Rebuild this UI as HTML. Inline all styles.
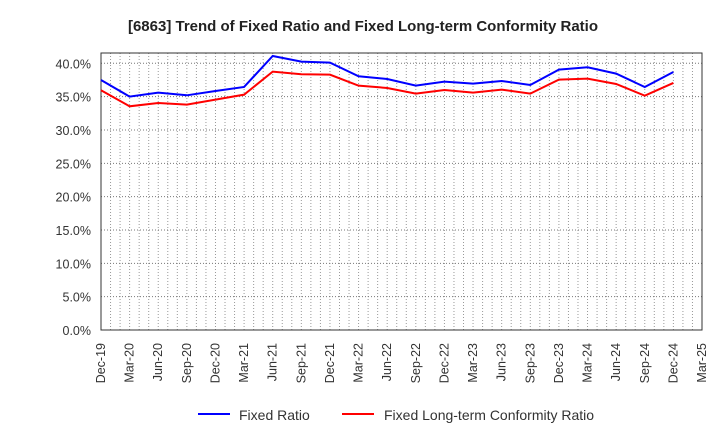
<!DOCTYPE html>
<html><head><meta charset="utf-8"><style>
body{margin:0;background:#fff;font-family:"Liberation Sans",sans-serif}
svg text{font-family:"Liberation Sans",sans-serif}
</style></head><body>
<svg id="c" width="720" height="440" xmlns="http://www.w3.org/2000/svg">
<text x="363" y="31" text-anchor="middle" font-size="15" font-weight="bold" fill="#222">[6863]  Trend of Fixed Ratio and Fixed Long-term Conformity Ratio</text>
<g id="grid"></g><g id="axes"></g><g id="series"></g>
<g>
<line x1="198" y1="414" x2="230" y2="414" stroke="#0000ff" stroke-width="2"/>
<text x="239" y="420" font-size="14" fill="#333">Fixed Ratio</text>
<line x1="342" y1="414" x2="374" y2="414" stroke="#ff0000" stroke-width="2"/>
<text x="384" y="420" font-size="14" fill="#333">Fixed Long-term Conformity Ratio</text>
</g>
</svg>
<script>
const xLabels=["Dec-19","Mar-20","Jun-20","Sep-20","Dec-20","Mar-21","Jun-21","Sep-21","Dec-21","Mar-22","Jun-22","Sep-22","Dec-22","Mar-23","Jun-23","Sep-23","Dec-23","Mar-24","Jun-24","Sep-24","Dec-24","Mar-25"];
const yTicks=[0,5,10,15,20,25,30,35,40];
const fixedRatio=[37.5,35.0,35.6,35.2,35.85,36.45,41.1,40.25,40.1,38.05,37.65,36.65,37.25,36.95,37.35,36.75,39.05,39.4,38.45,36.45,38.7];
const conformityRatio=[35.95,33.55,34.05,33.8,34.55,35.3,38.75,38.35,38.3,36.65,36.3,35.45,36.0,35.6,36.05,35.45,37.55,37.7,36.9,35.15,37.05];
const L=101,R=702,T=53,B=330;
const NS="http://www.w3.org/2000/svg";
const x=i=>L+(R-L)*i/(xLabels.length-1);
const y=v=>B-(B-63.3)*v/40;
function mk(tag,attrs,parent){const e=document.createElementNS(NS,tag);for(const k in attrs)e.setAttribute(k,attrs[k]);parent.appendChild(e);return e;}
const grid=document.getElementById('grid'),axes=document.getElementById('axes'),ser=document.getElementById('series');
const months=(xLabels.length-1)*3;
for(let m=1;m<months;m++){const xx=L+(R-L)*m/months;const g=mk('line',{x1:xx,x2:xx,y1:T,y2:B,stroke:'#999','stroke-width':1,'stroke-dasharray':'1,2'},grid);

}
yTicks.forEach(v=>{const yy=y(v);
if(v>0){const g=mk('line',{x1:L,x2:R,y1:yy,y2:yy,stroke:'#777','stroke-width':1,'stroke-dasharray':'1,2'},grid);

}
const t=mk('text',{x:L-10,y:yy+5,'text-anchor':'end','font-size':12.5,fill:'#333'},axes);t.textContent=v.toFixed(1)+'%';

});
const fr=mk('rect',{x:L,y:T,width:R-L,height:B-T,fill:'none',stroke:'#333','stroke-width':1},axes);


xLabels.forEach((s,i)=>{const xx=x(i)+4;const t=mk('text',{x:xx,y:343,'text-anchor':'end','font-size':12.5,fill:'#333',transform:`rotate(-90 ${xx} 343)`},axes);t.textContent=s;

});
function line(data,color,name){const p=mk('polyline',{points:data.map((v,i)=>x(i)+','+y(v)).join(' '),fill:'none',stroke:color,'stroke-width':2},ser);

}
line(conformityRatio,'#ff0000','conformity-ratio-line');
line(fixedRatio,'#0000ff','fixed-ratio-line');
</script>
</body></html>
